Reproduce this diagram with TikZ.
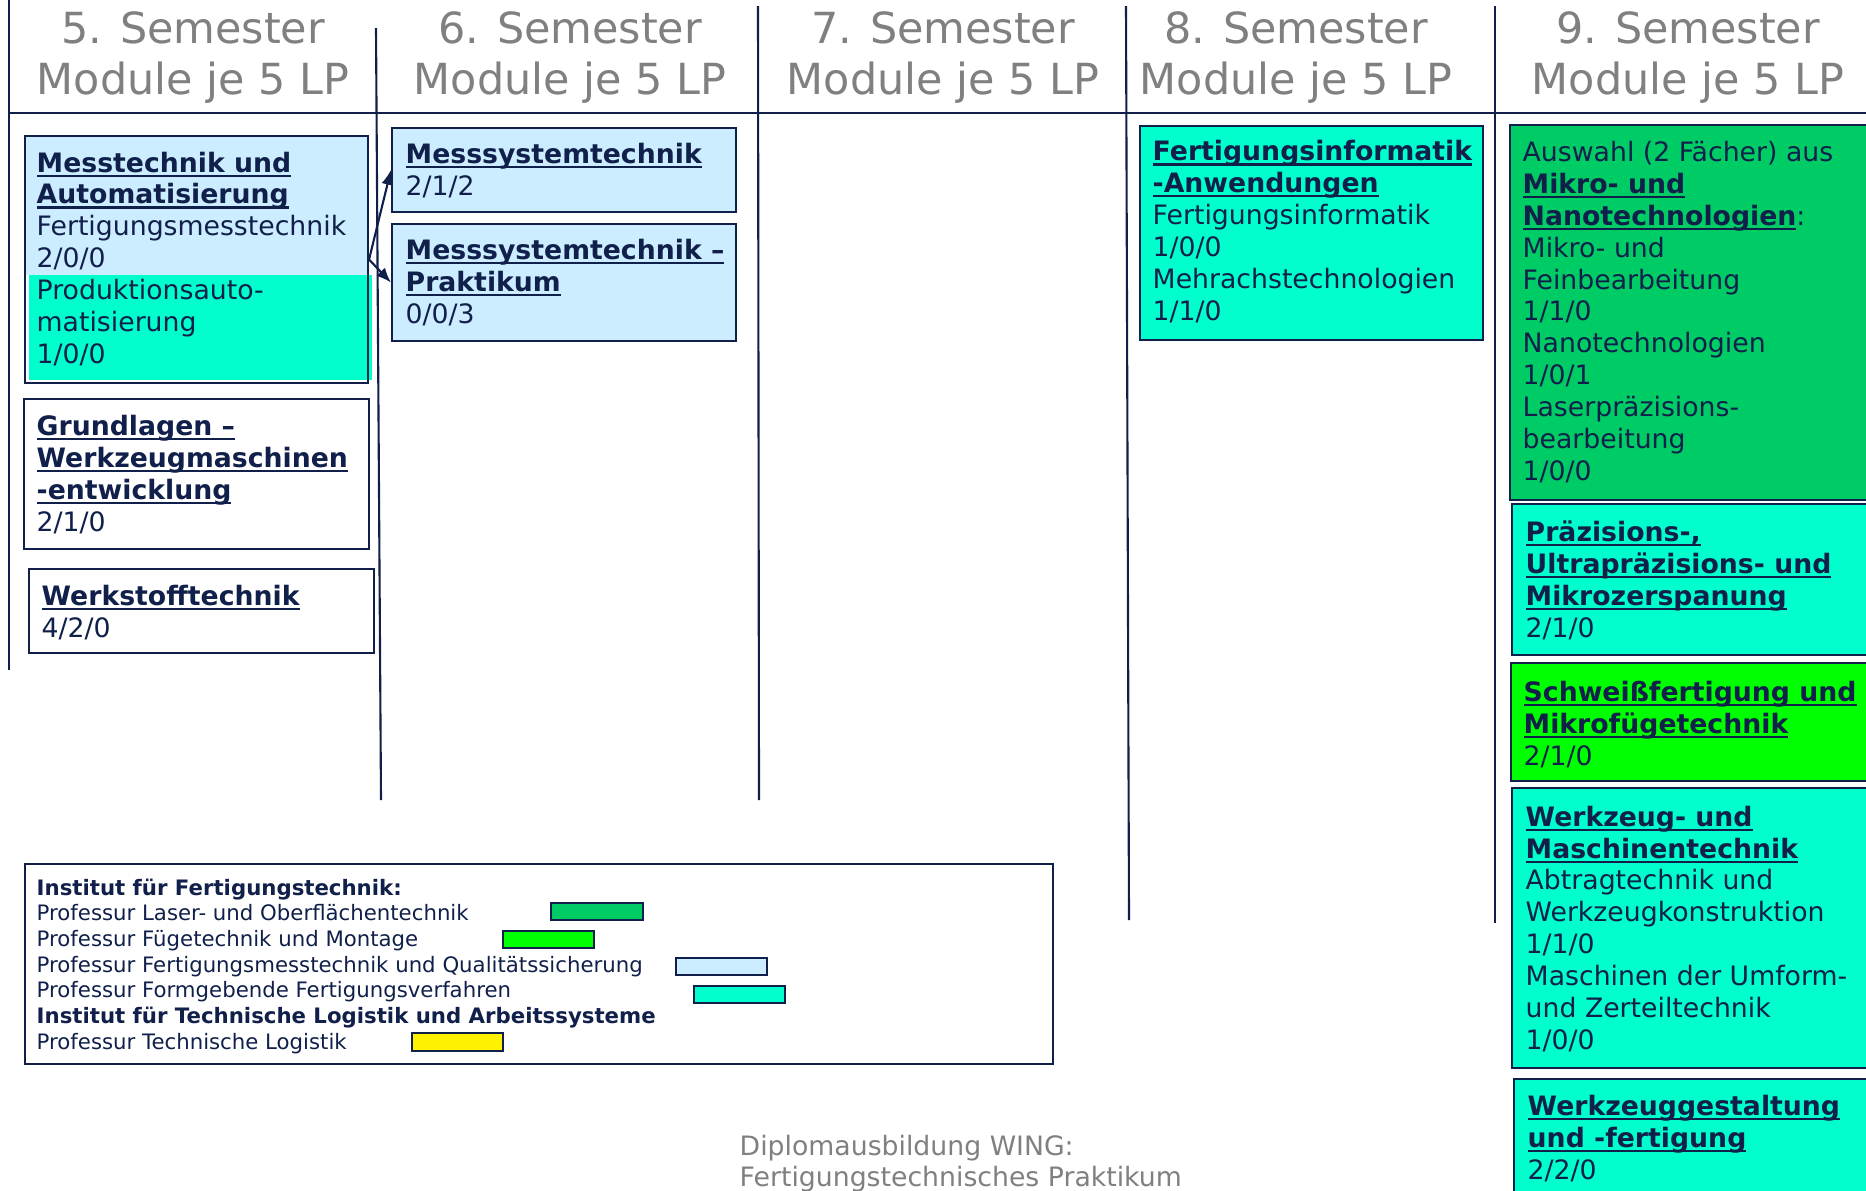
\documentclass[tikz,border=0pt]{standalone}
\usepackage{fontspec}
\setmainfont{DejaVu Sans}
\usetikzlibrary{fit,arrows.meta}

\definecolor{linenavy}{HTML}{10204A}
\definecolor{headgray}{HTML}{808080}
\definecolor{lightblue}{HTML}{CCECFF}
\definecolor{aqua}{HTML}{00FFCC}
\definecolor{darkgreen}{HTML}{00CC66}
\definecolor{brightgreen}{HTML}{00FF00}

% bold, underlined module title
\newsavebox\titlebox
\newcommand{\modtitle}[1]{\sbox\titlebox{\bfseries #1}%
    \rlap{\rule[-1.3pt]{\wd\titlebox}{0.6pt}}\usebox\titlebox}

\begin{document}
\begin{tikzpicture}[x=0.1mm,y=-0.1mm,
    box/.style={draw=linenavy,line width=0.6pt,inner sep=0pt},
    swatch/.style={box,line width=0.5pt},
    % texts are placed at the baseline of their last line
    modtext/.style={anchor=base west,align=left,inner sep=0pt,text=linenavy,
        font=\fontsize{7.6}{9.05}\selectfont},
    legtext/.style={anchor=base west,align=left,inner sep=0pt,text=linenavy,
        font=\fontsize{6.05}{7.3}\selectfont},
    semhead/.style={anchor=base,align=center,inner sep=0pt,text=headgray,
        font=\fontsize{12.2}{14.5}\selectfont},
    divider/.style={draw=linenavy,line width=0.6pt},
    feed/.style={linenavy,line width=0.6pt,-{Latex[length=4.2pt,width=3.4pt]}}]

    % page
    \fill[white] (0,0) rectangle (1866,1190);
    \clip (0,0) rectangle (1866,1190);

    % semester columns
    \draw[divider] (9,0) -- (9,670);
    \draw[divider] (376,28) -- (381,800);
    \draw[divider] (758,6) -- (759,800);
    \draw[divider] (1126,6) -- (1129,920);
    \draw[divider] (1495,6) -- (1495,923);
    \draw[divider] (9,113) -- (1866,113);

    % column heads
    \foreach \n/\xh in {5/193,6/570,7/943,8/1296,9/1688}
        \node[semhead] (sem\n) at (\xh,94) {\n. Semester\\Module je 5 LP};

    % 5. semester
    \fill[lightblue] (25,136) rectangle (368,275);
    \fill[aqua] (29,275) rectangle (372,380);
    \node[box,fit={(25,136) (368,383)}] (messauto) {};
    \node[modtext] (messautotxt) at (36,363) {\modtitle{Messtechnik und}\\
        \modtitle{Automatisierung}\\Fertigungsmesstechnik\\2/0/0\\
        Produktionsauto-\\matisierung\\1/0/0};

    \node[box,fit={(24,399) (369,549)}] (grundwzm) {};
    \node[modtext] (grundwzmtxt) at (36,531) {\modtitle{Grundlagen –}\\
        \modtitle{Werkzeugmaschinen}\\\modtitle{-entwicklung}\\2/1/0};

    \node[box,fit={(29,569) (374,653)}] (werkstoff) {};
    \node[modtext] (werkstofftxt) at (41,637) {\modtitle{Werkstofftechnik}\\4/2/0};

    % 6. semester
    \node[box,fill=lightblue,fit={(392,128) (736,212)}] (messsys) {};
    \node[modtext] (messsystxt) at (405,195) {\modtitle{Messsystemtechnik}\\2/1/2};

    \node[box,fill=lightblue,fit={(392,224) (736,341)}] (messprak) {};
    \node[modtext] (messpraktxt) at (405,323) {\modtitle{Messsystemtechnik –}\\
        \modtitle{Praktikum}\\0/0/3};

    \draw[feed] (messauto.east) -- (messsys.west);
    \draw[feed] (messauto.east) -- (messprak.west);

    % 8. semester
    \node[box,fill=aqua,fit={(1140,126) (1483,340)}] (fertinfo) {};
    \node[modtext] (fertinfotxt) at (1152,320) {\modtitle{Fertigungsinformatik}\\
        \modtitle{-Anwendungen}\\Fertigungsinformatik\\1/0/0\\
        Mehrachstechnologien\\1/1/0};

    % 9. semester
    \node[box,fill=darkgreen,fit={(1510,125) (1880,500)}] (mikronano) {};
    \node[modtext] (mikronanotxt) at (1522,480) {Auswahl (2 Fächer) aus\\
        \modtitle{Mikro- und}\\\modtitle{Nanotechnologien}:\\Mikro- und\\
        Feinbearbeitung\\1/1/0\\Nanotechnologien\\1/0/1\\
        Laserpräzisions-\\bearbeitung\\1/0/0};

    \node[box,fill=aqua,fit={(1512,504) (1880,655)}] (praez) {};
    \node[modtext] (praeztxt) at (1525,637) {\modtitle{Präzisions-,}\\
        \modtitle{Ultrapräzisions- und}\\\modtitle{Mikrozerspanung}\\2/1/0};

    \node[box,fill=brightgreen,fit={(1511,663) (1880,781)}] (schweiss) {};
    \node[modtext] (schweisstxt) at (1523,765) {\modtitle{Schweißfertigung und}\\
        \modtitle{Mikrofügetechnik}\\2/1/0};

    \node[box,fill=aqua,fit={(1512,788) (1880,1068)}] (wzmasch) {};
    \node[modtext] (wzmaschtxt) at (1525,1049) {\modtitle{Werkzeug- und}\\
        \modtitle{Maschinentechnik}\\Abtragtechnik und\\Werkzeugkonstruktion\\
        1/1/0\\Maschinen der Umform-\\und Zerteiltechnik\\1/0/0};

    \node[box,fill=aqua,fit={(1514,1079) (1880,1200)}] (wzgestalt) {};
    \node[modtext] (wzgestalttxt) at (1527,1179) {\modtitle{Werkzeuggestaltung}\\
        \modtitle{und -fertigung}\\2/2/0};

    % legend
    \node[box,fit={(25,864) (1053,1064)}] (legend) {};
    \node[legtext] (legendtxt) at (36,1049) {\textbf{Institut für Fertigungstechnik:}\\
        Professur Laser- und Oberflächentechnik\\
        Professur Fügetechnik und Montage\\
        Professur Fertigungsmesstechnik und Qualitätssicherung\\
        Professur Formgebende Fertigungsverfahren\\
        \textbf{Institut für Technische Logistik und Arbeitssysteme}\\
        Professur Technische Logistik};
    \node[swatch,fill=darkgreen,fit={(551,903) (643,920)}] (swlaser) {};
    \node[swatch,fill=brightgreen,fit={(503,931) (594,948)}] (swfuege) {};
    \node[swatch,fill=lightblue,fit={(676,958) (767,975)}] (swmess) {};
    \node[swatch,fill=aqua,fit={(694,986) (785,1003)}] (swform) {};
    \node[swatch,fill=yellow,fit={(412,1033) (503,1051)}] (swlog) {};

    % footer
    \node[modtext,text=headgray,font=\fontsize{7.6}{8.8}\selectfont] (footer)
        at (739,1186) {Diplomausbildung WING:\\Fertigungstechnisches Praktikum};

\end{tikzpicture}
\end{document}
